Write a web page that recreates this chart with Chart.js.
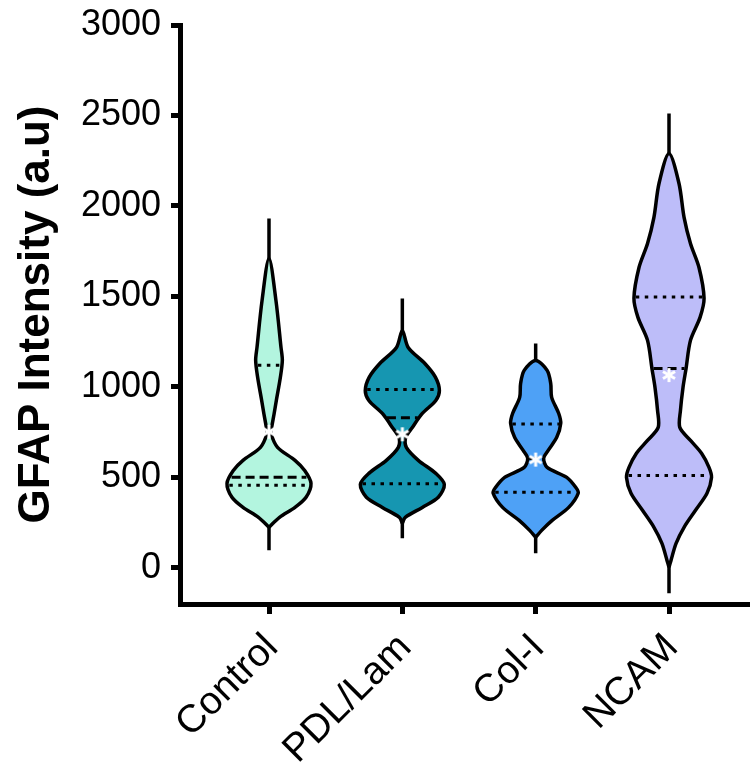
<!DOCTYPE html>
<html><head><meta charset="utf-8">
<script src="https://cdn.jsdelivr.net/npm/chart.js@4.4.1/dist/chart.umd.min.js"></script>
<style>html,body{margin:0;padding:0;background:#fff;}#wrap{width:750px;height:767px;}</style>
</head><body><div id="wrap"><canvas id="c" width="750" height="767"></canvas></div>
<script>
// ---- data ----
const categories = ['Control', 'PDL/Lam', 'Col-I', 'NCAM'];
const yTicks = [0, 500, 1000, 1500, 2000, 2500, 3000];

// violin outlines: GFAP level and half-width (in category units)
const controlLevels = [224, 279, 334, 390, 467, 539, 594, 666, 743, 776, 850, 925, 1052, 1146, 1218, 1478, 1710];
const controlWidths = [0, 0.079, 0.195, 0.278, 0.315, 0.266, 0.195, 0.064, 0.015, 0.02, 0.038, 0.055, 0.085, 0.1, 0.09, 0.052, 0];
const pdlLevels = [246, 279, 334, 390, 461, 522, 594, 666, 721, 776, 853, 925, 980, 1054, 1129, 1218, 1312];
const pdlWidths = [0, 0.022, 0.15, 0.27, 0.315, 0.251, 0.12, 0.03, 0.026, 0.075, 0.15, 0.251, 0.278, 0.248, 0.169, 0.044, 0];
const colLevels = [169, 207, 262, 334, 412, 445, 500, 555, 605, 649, 721, 798, 853, 942, 1019, 1091, 1146];
const colWidths = [0, 0.045, 0.124, 0.248, 0.319, 0.3, 0.233, 0.086, 0.06, 0.094, 0.158, 0.188, 0.173, 0.12, 0.113, 0.086, 0];
const ncamLevels = [3, 41, 135, 224, 318, 412, 500, 555, 633, 704, 776, 870, 997, 1102, 1257, 1384, 1489, 1660, 1793, 1937, 2124, 2290];
const ncamWidths = [0, 0.015, 0.053, 0.113, 0.199, 0.285, 0.319, 0.3, 0.244, 0.161, 0.081, 0.086, 0.105, 0.128, 0.161, 0.233, 0.263, 0.225, 0.161, 0.113, 0.075, 0];

const mins = [97, 163, 80, -141];
const maxs = [1931, 1489, 1240, 2511];
const q1 = [456, 465, 418, 510];
const medians = [500, 830, 603, 1102];
const q3 = [1119, 986, 795, 1497];
const means = [752, 738, 598, 1065];

const fillColors = ['#b3f5df', '#1696b1', '#4ea1f6', '#bdbdf9'];

// ---- build datasets ----
const levelSets = [controlLevels, pdlLevels, colLevels, ncamLevels];
const widthSets = [controlWidths, pdlWidths, colWidths, ncamWidths];

function outline(i, levels, widths) {
  const pts = [];
  for (let k = 0; k < levels.length; k++) pts.push({x: i + widths[k], y: levels[k]});
  for (let k = levels.length - 2; k >= 0; k--) pts.push({x: i - widths[k], y: levels[k]});
  return pts;
}
function widthAt(levels, widths, v) {
  for (let k = 0; k < levels.length - 1; k++) {
    if (v >= levels[k] && v <= levels[k + 1]) {
      const t = (v - levels[k]) / (levels[k + 1] - levels[k]);
      return widths[k] + t * (widths[k + 1] - widths[k]);
    }
  }
  return 0;
}
function makeStar() {
  const c = document.createElement('canvas');
  c.width = 18; c.height = 18;
  const g = c.getContext('2d');
  g.strokeStyle = '#fff'; g.lineWidth = 3;
  g.translate(9, 9);
  [90, 30, 150].forEach(a => {
    const r = a * Math.PI / 180;
    g.beginPath();
    g.moveTo(-7 * Math.cos(r), -7 * Math.sin(r));
    g.lineTo(7 * Math.cos(r), 7 * Math.sin(r));
    g.stroke();
  });
  return c;
}

const datasets = [];
// mean markers (top)
datasets.push({
  data: means.map((m, i) => ({x: i, y: m})),
  showLine: false, pointStyle: makeStar(), pointRadius: 9, order: 0
});
categories.forEach((name, i) => {
  const L = levelSets[i], W = widthSets[i];
  // quartile lines
  [[q1[i], [3.5, 5.5]], [q3[i], [3.5, 5.5]], [medians[i], [9, 5]]].forEach(([v, dash]) => {
    const w = Math.max(widthAt(L, W, v) - 0.012, 0.01);
    datasets.push({
      data: [{x: i - w, y: v}, {x: i + w, y: v}],
      borderColor: '#000', borderWidth: 3, borderDash: dash, borderCapStyle: 'butt',
      pointRadius: 0, tension: 0, fill: false, order: 1
    });
  });
  // violin body
  datasets.push({
    label: name,
    data: outline(i, L, W),
    borderColor: '#000', borderWidth: 3.5, backgroundColor: fillColors[i],
    fill: 'shape', pointRadius: 0, tension: 0.3, order: 2
  });
  // range line
  datasets.push({
    data: [{x: i, y: mins[i]}, {x: i, y: maxs[i]}],
    borderColor: '#000', borderWidth: 3.5, pointRadius: 0, fill: false, order: 3
  });
});

Chart.defaults.font.family = "'Liberation Sans', Arial, sans-serif";
Chart.defaults.color = '#000';

new Chart(document.getElementById('c'), {
  type: 'line',
  data: {datasets},
  options: {
    responsive: false, animation: false, devicePixelRatio: 1,
    layout: {autoPadding: false, padding: {top: 25, right: 0, left: 0, bottom: 0}},
    plugins: {legend: {display: false}, tooltip: {enabled: false}},
    scales: {
      x: {
        type: 'linear', min: -0.6675, max: 3.6075,
        afterBuildTicks: s => { s.ticks = categories.map((c, i) => ({value: i})); },
        afterFit: s => { s.height = 163; s.paddingLeft = 0; s.paddingRight = 0; },
        ticks: {
          autoSkip: false, maxRotation: 45, minRotation: 45, padding: 11, labelOffset: 3,
          font: {size: 39}, color: '#000',
          callback: v => categories[v]
        },
        grid: {drawOnChartArea: false, drawTicks: true, tickLength: 10, color: '#000', lineWidth: 5},
        border: {display: true, color: '#000', width: 5}
      },
      y: {
        type: 'linear', min: -200, max: 3000,
        afterBuildTicks: s => { s.ticks = yTicks.map(v => ({value: v})); },
        afterFit: s => { s.width = 180; s.paddingTop = 0; s.paddingBottom = 0; },
        ticks: {font: {size: 36}, color: '#000', padding: 10, callback: v => String(v)},
        grid: {drawOnChartArea: false, drawTicks: true, tickLength: 9, color: '#000', lineWidth: 5},
        border: {display: true, color: '#000', width: 5},
        title: {display: true, text: 'GFAP Intensity (a.u)', color: '#000',
          font: {size: 44, weight: 'bold'}, padding: {top: 10, bottom: 0}}
      }
    }
  }
});
</script></body></html>
